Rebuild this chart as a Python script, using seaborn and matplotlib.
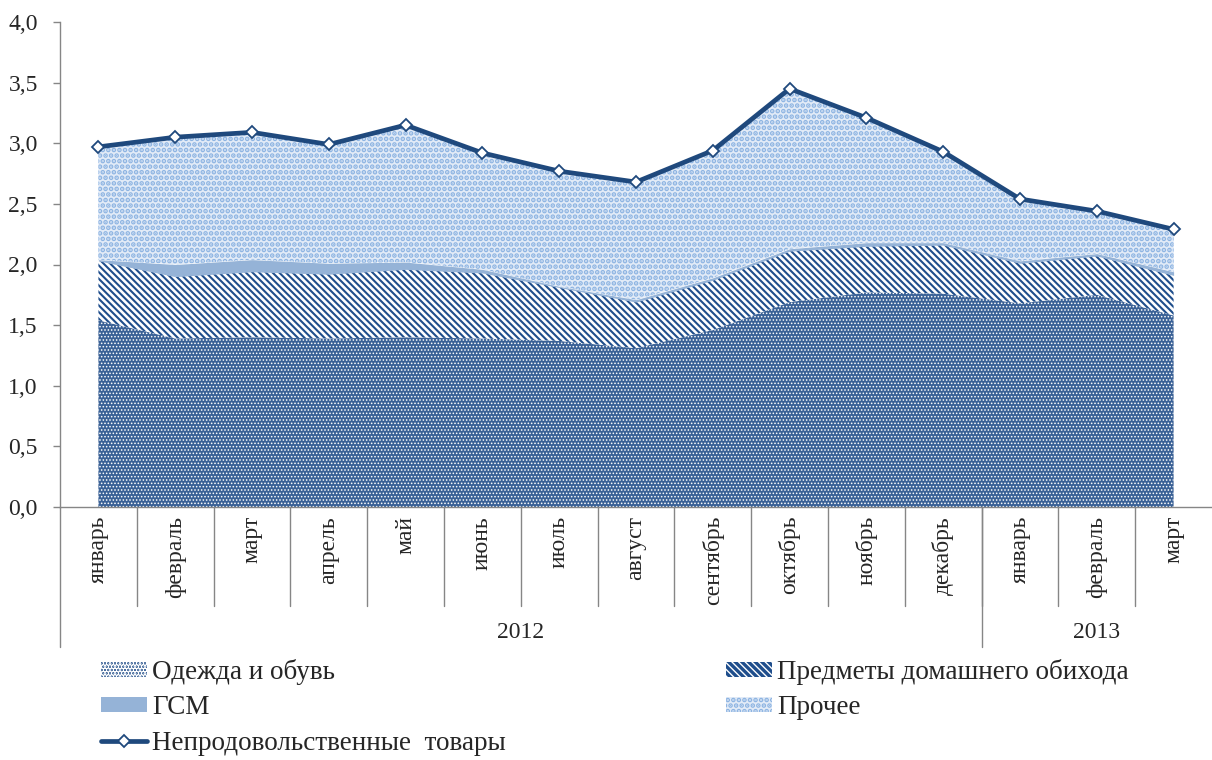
import matplotlib.pyplot as plt
import numpy as np
import seaborn as sns
from matplotlib.lines import Line2D
from matplotlib.transforms import blended_transform_factory

# ---------------------------------------------------------------------------
# Data (contributions to non-food inflation, p.p.)
# ---------------------------------------------------------------------------
months = ["январь", "февраль", "март", "апрель", "май", "июнь", "июль", "август",
          "сентябрь", "октябрь", "ноябрь", "декабрь", "январь", "февраль", "март"]
years = ["2012", "2013"]
year_sizes = [12, 3]

clothes = [1.54, 1.39, 1.40, 1.39, 1.40, 1.39, 1.37, 1.31, 1.46, 1.69, 1.77, 1.76, 1.68, 1.75, 1.58]
household = [0.49, 0.51, 0.54, 0.53, 0.56, 0.54, 0.44, 0.38, 0.41, 0.42, 0.38, 0.40, 0.33, 0.32, 0.33]
fuel = [0.01, 0.10, 0.10, 0.09, 0.06, 0.03, 0.01, 0.02, 0.02, 0.02, 0.03, 0.02, 0.02, 0.02, 0.03]
other = [0.93, 1.05, 1.05, 0.98, 1.13, 0.96, 0.95, 0.97, 1.05, 1.32, 1.03, 0.75, 0.51, 0.35, 0.35]
nonfood = [2.97, 3.05, 3.09, 2.99, 3.15, 2.92, 2.77, 2.68, 2.94, 3.45, 3.21, 2.93, 2.54, 2.44, 2.29]

series_names = ["Одежда и обувь", "Предметы домашнего обихода", "ГСМ", "Прочее"]
line_name = "Непродовольственные  товары"
y_ticks = [0.0, 0.5, 1.0, 1.5, 2.0, 2.5, 3.0, 3.5, 4.0]

# styles: (face, hatch colour, hatch, hatch linewidth)
styles = [
    ("#3a6196", "white", ".....", 0.7),
    ("white", "#1f4e8c", "\\" * 5, 1.5),
    ("#95b3d7", "#95b3d7", None, 0.0),
    ("#e2ebf7", "#8db4e2", "...", 2.4),
]
LINE_COLOR = "#1f497d"
AXIS_COLOR = "#868686"

sns.set_theme(style="white")
plt.rcParams["font.family"] = ["Liberation Serif", "DejaVu Serif"]
FS = 17
LEG_FS = 19.5

W, H = 1212, 760
fig = plt.figure(figsize=(W / 100, H / 100), dpi=100)
ax = fig.add_axes([60 / W, 1 - 507 / H, 1152 / W, 485 / H])

x = np.arange(len(months))
base = np.zeros(len(months))
handles = []
for vals, name, (face, hcol, hatch, hlw) in zip([clothes, household, fuel, other], series_names, styles):
    top = base + np.array(vals)
    plt.rcParams["hatch.linewidth"] = hlw if hlw > 0 else 1.0
    coll = ax.fill_between(x, base, top, facecolor=face, edgecolor=hcol, hatch=hatch,
                           linewidth=0, label=name)
    if hasattr(coll, "set_hatch_linewidth") and hlw > 0:
        coll.set_hatch_linewidth(hlw)
    handles.append(coll)
    base = top

sns.lineplot(x=x, y=nonfood, ax=ax, color=LINE_COLOR, linewidth=3.4, marker="D",
             markersize=6, markerfacecolor="white", markeredgecolor=LINE_COLOR,
             markeredgewidth=1.3, legend=False, zorder=5)

ax.set_xlim(-0.5, len(months) - 0.5)
ax.set_ylim(0, 4)
ax.set_yticks(y_ticks)
ax.set_yticklabels([f"{v:.1f}".replace(".", ",") for v in y_ticks])
ax.set_xticks([])
ax.tick_params(axis="y", direction="out", length=5, width=1, color=AXIS_COLOR,
               labelsize=FS, pad=11, left=True)
for side in ["top", "right"]:
    ax.spines[side].set_visible(False)
for side in ["left", "bottom"]:
    ax.spines[side].set_color(AXIS_COLOR)
    ax.spines[side].set_linewidth(1)
ax.set_xlabel("")
ax.set_ylabel("")

# two-level category axis
tr = blended_transform_factory(ax.transData, fig.transFigure)


def fy(py):
    return 1 - py / H


for i, m in enumerate(months):
    ax.text(i, fy(516), m, rotation=90, ha="center", va="top", fontsize=FS, transform=tr)
    if i > 0:
        ax.add_line(Line2D([i - 0.5, i - 0.5], [fy(507), fy(606)], transform=tr,
                           color=AXIS_COLOR, lw=1, clip_on=False))

start = 0
for yr, n in zip(years, year_sizes):
    ax.add_line(Line2D([start - 0.5, start - 0.5], [fy(507), fy(647)], transform=tr,
                       color=AXIS_COLOR, lw=1, clip_on=False))
    ax.text(start + (n - 1) / 2, fy(632), yr, ha="center", va="center", fontsize=FS, transform=tr)
    start += n

line_handle = Line2D([], [], color=LINE_COLOR, lw=3.4, marker="D", markersize=6,
                     markerfacecolor="white", markeredgecolor=LINE_COLOR, markeredgewidth=1.3)

leg_kw = dict(frameon=False, fontsize=LEG_FS, handlelength=1.7, handleheight=0.45,
              handletextpad=0.2, labelspacing=0.38, borderpad=0, borderaxespad=0,
              loc="upper left")
fig.legend([handles[0], handles[2], line_handle], [series_names[0], series_names[2], line_name],
           bbox_to_anchor=(101 / W, fy(659)), **leg_kw)
fig.legend([handles[1], handles[3]], [series_names[1], series_names[3]],
           bbox_to_anchor=(726 / W, fy(659)), **leg_kw)

fig.savefig("out.png", dpi=100)
